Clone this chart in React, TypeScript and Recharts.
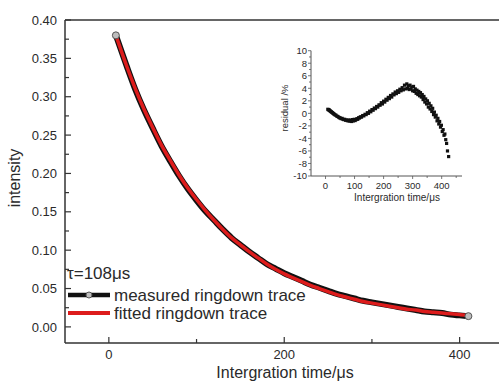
import React, { useEffect } from 'react';
import { LineChart, Line, XAxis, YAxis, ScatterChart, Scatter, ReferenceLine } from 'recharts';

// ---- main ringdown trace ----
const times = [8, 20, 30, 40, 50, 60, 70, 80, 90, 100, 110, 120, 130, 140, 150, 160, 170, 180, 190, 200, 210, 220, 230, 240, 250, 260, 270, 280, 290, 300, 310, 320, 330, 340, 350, 360, 370, 380, 390, 400, 410];
const measured = [0.380, 0.341, 0.310, 0.283, 0.259, 0.236, 0.216, 0.197, 0.180, 0.165, 0.151, 0.139, 0.127, 0.116, 0.107, 0.098, 0.090, 0.082, 0.076, 0.070, 0.065, 0.060, 0.055, 0.051, 0.047, 0.043, 0.040, 0.037, 0.034, 0.032, 0.030, 0.028, 0.026, 0.024, 0.022, 0.020, 0.019, 0.018, 0.016, 0.015, 0.014];
const fitted = [0.380, 0.341, 0.311, 0.284, 0.260, 0.237, 0.217, 0.198, 0.181, 0.166, 0.152, 0.139, 0.127, 0.116, 0.107, 0.098, 0.090, 0.082, 0.075, 0.069, 0.064, 0.059, 0.054, 0.050, 0.046, 0.042, 0.039, 0.036, 0.033, 0.031, 0.029, 0.027, 0.025, 0.023, 0.022, 0.020, 0.019, 0.018, 0.017, 0.016, 0.015];

const xMajorTicks = [0, 200, 400];
const xMinorTicks = [100, 300];
const yMajorTicks = [0, 0.05, 0.1, 0.15, 0.2, 0.25, 0.3, 0.35, 0.4];
const yMinorTicks = [0.025, 0.075, 0.125, 0.175, 0.225, 0.275, 0.325, 0.375];

// ---- inset residual ----
const residualTimes = [8, 10, 12, 14, 16, 18, 20, 22, 24, 26, 28, 30, 33, 36, 39, 42, 45, 48, 51, 54, 57, 60, 63, 66, 69, 72, 75, 78, 81, 84, 87, 90, 93, 96, 99, 102, 105, 108, 111, 114, 117, 120, 124, 128, 132, 136, 140, 144, 148, 152, 156, 160, 164, 168, 172, 176, 180, 184, 188, 192, 196, 200, 204, 208, 212, 216, 220, 224, 228, 232, 236, 240, 244, 248, 252, 256, 260, 264, 268, 272, 276, 280, 282, 285, 288, 291, 294, 297, 300, 303, 306, 309, 312, 315, 318, 321, 324, 327, 330, 333, 336, 339, 342, 345, 348, 351, 354, 357, 360, 363, 366, 369, 372, 375, 378, 381, 384, 387, 390, 393, 396, 399, 402, 405, 408, 411, 414, 417, 420, 424];
const residualValues = [0.65, 0.55, 0.6, 0.45, 0.4, 0.3, 0.25, 0.15, 0.1, 0.0, -0.05, -0.15, -0.25, -0.3, -0.45, -0.5, -0.6, -0.7, -0.75, -0.85, -0.8, -0.95, -1.0, -0.95, -1.1, -1.05, -1.15, -1.2, -1.05, -1.25, -1.1, -1.3, -1.0, -1.2, -0.95, -1.15, -1.0, -0.85, -0.95, -0.7, -0.75, -0.55, -0.6, -0.35, -0.4, -0.15, -0.2, 0.1, 0.0, 0.35, 0.25, 0.6, 0.5, 0.85, 0.75, 1.1, 1.0, 1.35, 1.3, 1.7, 1.5, 1.95, 1.8, 2.25, 2.1, 2.55, 2.35, 2.85, 2.6, 3.1, 2.95, 3.4, 3.15, 3.6, 3.35, 3.85, 3.6, 4.1, 3.75, 4.5, 3.9, 4.7, 4.0, 4.4, 3.8, 4.5, 3.9, 4.2, 3.6, 4.3, 3.5, 3.9, 3.2, 3.7, 3.0, 3.5, 2.8, 3.3, 2.6, 3.0, 2.2, 2.7, 1.8, 2.3, 1.5, 2.0, 1.0, 1.6, 0.7, 1.2, 0.3, 0.8, -0.2, 0.2, -0.6, -0.3, -1.2, -0.8, -1.7, -1.3, -2.2, -1.9, -2.9, -2.6, -3.5, -3.3, -4.2, -4.8, -6.0, -6.9];

const insetXMajor = [0, 100, 200, 300, 400];
const insetXMinor = [50, 150, 250, 350, 450];
const insetYMajor = [-10, -8, -6, -4, -2, 0, 2, 4, 6, 8, 10];
const insetYMinor = [-9, -7, -5, -3, -1, 1, 3, 5, 7, 9];

const mainData = times.map((t, i) => ({ t, measured: measured[i], fitted: fitted[i] }));
const residualData = residualTimes.map((t, i) => ({ t, r: residualValues[i] }));

const FONT = '"Liberation Sans", Arial, sans-serif';
const TXT = '#2a2a2a';

const MainXTick = (props: any) => {
  const { x, y, payload } = props;
  const major = xMajorTicks.includes(payload.value);
  return (
    <g>
      <line x1={x} x2={x} y1={y} y2={y - (major ? 6 : 4)} stroke="#333" strokeWidth={1.2} />
      {major && (
        <text x={x} y={y + 16} textAnchor="middle" fontSize={13} fill={TXT} fontFamily={FONT}>
          {payload.value}
        </text>
      )}
    </g>
  );
};

const MainYTick = (props: any) => {
  const { x, y, payload } = props;
  const major = yMajorTicks.some((v) => Math.abs(v - payload.value) < 1e-9);
  return (
    <g>
      <line x1={x} x2={x + (major ? 6 : 4)} y1={y} y2={y} stroke="#333" strokeWidth={1.2} />
      {major && (
        <text x={x - 8} y={y} dy="0.36em" textAnchor="end" fontSize={13} fill={TXT} fontFamily={FONT}>
          {payload.value.toFixed(2)}
        </text>
      )}
    </g>
  );
};

const InsetXTick = (props: any) => {
  const { x, y, payload } = props;
  const major = insetXMajor.includes(payload.value);
  return (
    <g>
      <line x1={x} x2={x} y1={y} y2={y + (major ? 3 : 2)} stroke="#555" strokeWidth={0.8} />
      {major && (
        <text x={x} y={y + 12.5} textAnchor="middle" fontSize={9.5} fill={TXT} fontFamily={FONT}>
          {payload.value}
        </text>
      )}
    </g>
  );
};

const InsetYTick = (props: any) => {
  const { x, y, payload } = props;
  const major = insetYMajor.includes(payload.value);
  return (
    <g>
      <line x1={x - (major ? 3 : 2)} x2={x} y1={y} y2={y} stroke="#555" strokeWidth={0.8} />
      {major && (
        <text x={x - 4} y={y} dy="0.36em" textAnchor="end" fontSize={9.5} fill={TXT} fontFamily={FONT}>
          {payload.value}
        </text>
      )}
    </g>
  );
};

const endDot = (p: any) => {
  if (p.index === 0 || p.index === times.length - 1) {
    return <circle key={`d${p.index}`} cx={p.cx} cy={p.cy} r={3.5} fill="#bdbdbd" stroke="#555" strokeWidth={1} />;
  }
  return <g key={`d${p.index}`} />;
};

const square = (p: any) => (
  <rect x={p.cx - 1.6} y={p.cy - 1.6} width={3.2} height={3.2} fill="#111" />
);

export default function App() {
  useEffect(() => {
    document.body.style.margin = '0';
    document.body.style.overflow = 'hidden';
    document.documentElement.style.overflow = 'hidden';
  }, []);
  return (
    <div style={{ position: 'absolute', left: 0, top: 0, width: 499, height: 392, overflow: 'hidden', background: '#fff' }}>
      <LineChart width={499} height={392} data={mainData} margin={{ top: 20, right: 0, bottom: 0, left: 0 }} accessibilityLayer={false}>
        <XAxis
          dataKey="t"
          type="number"
          domain={[-50, 444.9]}
          allowDataOverflow
          ticks={[...xMajorTicks, ...xMinorTicks]}
          interval={0}
          height={49}
          tickSize={0}
          tickMargin={0}
          tickLine={false}
          tick={MainXTick}
          axisLine={{ stroke: '#333', strokeWidth: 1.5 }}
        />
        <YAxis
          type="number"
          domain={[-0.021, 0.4]}
          allowDataOverflow
          ticks={[...yMajorTicks, ...yMinorTicks]}
          interval={0}
          width={65}
          tickSize={0}
          tickMargin={0}
          tickLine={false}
          tick={MainYTick}
          axisLine={{ stroke: '#333', strokeWidth: 1.5 }}
        />
        <ReferenceLine y={0.4} stroke="#666" strokeWidth={2} />
        <Line dataKey="measured" type="monotone" stroke="#111" strokeWidth={6} dot={endDot} isAnimationActive={false} />
        <Line dataKey="fitted" type="monotone" stroke="#dd1c1c" strokeWidth={3.5} dot={false} isAnimationActive={false} />
      </LineChart>

      <div style={{ position: 'absolute', left: 250, top: 30 }}>
        <ScatterChart width={230} height={180} margin={{ top: 20.7, right: 18, bottom: 0, left: 0 }} accessibilityLayer={false}>
          <XAxis
            dataKey="t"
            type="number"
            domain={[-50, 470]}
            allowDataOverflow
            ticks={[...insetXMajor, ...insetXMinor]}
            interval={0}
            height={34}
            tickSize={0}
            tickMargin={0}
            tickLine={false}
            tick={InsetXTick}
            axisLine={{ stroke: '#555', strokeWidth: 1 }}
          />
          <YAxis
            dataKey="r"
            type="number"
            domain={[-10, 10]}
            allowDataOverflow
            ticks={[...insetYMajor, ...insetYMinor]}
            interval={0}
            width={61}
            tickSize={0}
            tickMargin={0}
            tickLine={false}
            tick={InsetYTick}
            axisLine={{ stroke: '#555', strokeWidth: 1 }}
          />
          <Scatter data={residualData} shape={square} isAnimationActive={false} />
        </ScatterChart>
      </div>

      <svg width={499} height={392} style={{ position: 'absolute', left: 0, top: 0, pointerEvents: 'none' }}>
        <rect x={482} y={346} width={17} height={46} fill="#fff" />
        <g fontFamily={FONT} fill={TXT}>
          <text x={14} y={178} transform="rotate(-90 14 178)" textAnchor="middle" dy="0.36em" fontSize={16}>intensity</text>
          <text x={285} y={378} textAnchor="middle" fontSize={16}>Intergration time/μs</text>
          <text x={67} y={279} fontSize={17}>τ=108μs</text>
          <line x1={68} x2={110} y1={295} y2={295} stroke="#111" strokeWidth={4.5} />
          <circle cx={89} cy={295} r={3} fill="#bdbdbd" stroke="#555" strokeWidth={1} />
          <text x={114} y={300.5} fontSize={17}>measured ringdown trace</text>
          <line x1={68} x2={110} y1={313} y2={313} stroke="#dd1c1c" strokeWidth={4} />
          <text x={114} y={318.5} fontSize={17}>fitted ringdown trace</text>
          <text x={285} y={108} transform="rotate(-90 285 108)" textAnchor="middle" dy="0.36em" fontSize={9.5}>residual /%</text>
          <text x={397} y={201} textAnchor="middle" fontSize={10}>Intergration time/μs</text>
        </g>
      </svg>
    </div>
  );
}
